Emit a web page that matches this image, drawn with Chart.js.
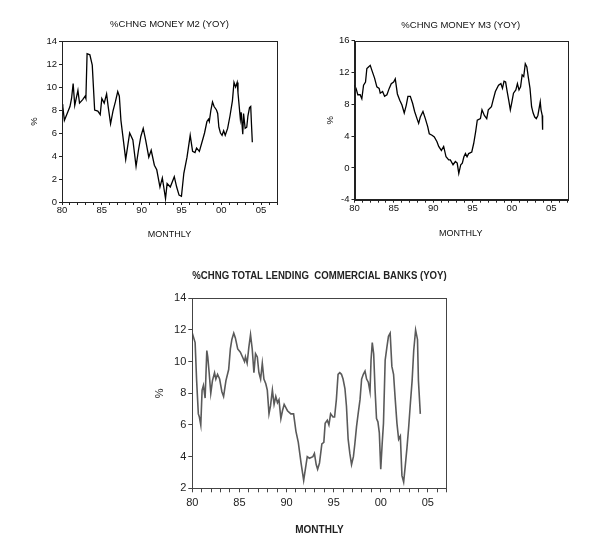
<!DOCTYPE html>
<html>
<head>
<meta charset="utf-8">
<script src="https://cdn.jsdelivr.net/npm/chart.js@4.4.1/dist/chart.umd.min.js"></script>
<style>
    body { margin: 0; background: #fff; }
    canvas { position: absolute; }
</style>
</head>
<body>
<canvas id="chartM2" width="300" height="250" style="left:0;top:0"></canvas>
<canvas id="chartM3" width="313" height="250" style="left:300px;top:0"></canvas>
<canvas id="chartLending" width="330" height="290" style="left:140px;top:255px"></canvas>
<script>
// Series (decimal years, % change YoY)
const m2Years = [1980.0, 1980.1, 1980.3, 1980.6, 1981.0, 1981.2, 1981.4, 1981.6, 1982.0, 1982.2, 1982.6, 1982.9,
    1983.0, 1983.15, 1983.5, 1983.8, 1984.1, 1984.5, 1984.8, 1985.0, 1985.3, 1985.6, 1985.8, 1986.1, 1986.4, 1986.7,
    1987.0, 1987.2, 1987.4, 1987.7, 1988.0, 1988.3, 1988.5, 1988.9, 1989.3, 1989.6, 1989.9, 1990.2, 1990.5, 1990.9,
    1991.2, 1991.6, 1991.9, 1992.3, 1992.6, 1993.0, 1993.2, 1993.6, 1994.1, 1994.4, 1994.7, 1995.0, 1995.3, 1995.7,
    1996.1, 1996.4, 1996.7, 1996.9, 1997.25, 1997.7, 1997.9, 1998.2, 1998.4, 1998.5, 1998.7, 1998.9,
    1999.1, 1999.4, 1999.55, 1999.7, 1999.9, 2000.1, 2000.3, 2000.5, 2000.8, 2001.1, 2001.4, 2001.6, 2001.8,
    2002.0, 2002.1, 2002.4, 2002.5, 2002.7, 2002.8, 2003.0, 2003.2, 2003.35, 2003.55, 2003.7, 2003.8, 2003.9];
const m2Values = [8.5, 8.3, 7.1, 7.6, 8.3, 9.0, 10.3, 8.4, 9.7, 8.6, 8.9, 9.2,
    9.0, 12.9, 12.8, 11.9, 8.0, 7.9, 7.6, 9.0, 8.6, 9.4, 8.3, 6.8, 7.9, 8.7,
    9.6, 9.2, 7.1, 5.4, 3.7, 5.1, 6.0, 5.4, 3.1, 4.5, 5.7, 6.4, 5.4, 3.9,
    4.5, 3.2, 2.8, 1.3, 2.1, 0.3, 1.6, 1.3, 2.2, 1.3, 0.6, 0.5, 2.5, 3.9,
    5.8, 4.4, 4.3, 4.7, 4.4, 5.5, 6.0, 7.0, 7.2, 7.0, 8.0, 8.7,
    8.3, 8.0, 7.7, 6.5, 6.0, 5.8, 6.2, 5.8, 6.4, 7.5, 8.8, 10.4, 10.0,
    10.4, 9.5, 7.2, 7.8, 5.9, 7.7, 6.4, 6.5, 7.5, 8.2, 8.3, 6.7, 5.2];

const m3Years = [1980.0, 1980.2, 1980.42, 1980.72, 1980.93, 1981.15, 1981.4, 1981.57, 1981.78,
    1982.0, 1982.2, 1982.55, 1982.84, 1983.13, 1983.27, 1983.57, 1983.82, 1984.12, 1984.41, 1984.67, 1984.97,
    1985.18, 1985.45, 1985.75, 1986.03, 1986.32, 1986.58, 1986.79, 1987.09, 1987.39, 1987.64, 1987.94,
    1988.15, 1988.36, 1988.7, 1989.0, 1989.3, 1989.5, 1989.85, 1990.14, 1990.48, 1990.7,
    1991.04, 1991.33, 1991.63, 1991.97, 1992.18, 1992.52, 1992.82, 1993.05, 1993.25, 1993.5, 1993.7, 1993.9,
    1994.1, 1994.3, 1994.5, 1994.9, 1995.15, 1995.4, 1995.6, 1996.0, 1996.2, 1996.5, 1996.8,
    1997.0, 1997.4, 1997.6, 1997.9, 1998.3, 1998.6, 1998.8, 1999.0, 1999.2, 1999.4, 1999.6, 1999.8,
    2000.0, 2000.2, 2000.5, 2000.7, 2000.9, 2001.1, 2001.3, 2001.5, 2001.7, 2001.9,
    2002.1, 2002.3, 2002.5, 2002.7, 2002.9, 2003.1, 2003.3, 2003.6, 2003.7, 2003.85, 2003.9];
const m3Values = [10.4, 10.0, 9.2, 9.2, 8.7, 10.4, 10.8, 12.5, 12.7,
    12.9, 12.3, 11.3, 10.2, 10.0, 9.4, 9.6, 9.0, 9.2, 10.0, 10.6, 10.8,
    11.2, 9.3, 8.5, 7.9, 6.9, 7.9, 9.0, 9.0, 8.1, 7.1, 6.2,
    5.6, 6.4, 7.1, 6.2, 5.2, 4.3, 4.1, 3.9, 3.3, 2.7,
    2.2, 2.7, 1.4, 1.0, 1.0, 0.4, 0.8, 0.6, -0.7, 0.4, 0.6, 1.4,
    1.8, 1.4, 1.8, 2.0, 3.1, 4.6, 6.0, 6.2, 7.3, 6.6, 6.2,
    7.3, 7.7, 8.5, 9.6, 10.4, 10.6, 10.0, 10.9, 10.8, 9.6, 8.5, 7.3,
    8.3, 9.4, 9.8, 10.6, 9.8, 10.2, 11.7, 11.5, 13.1, 12.7,
    11.3, 10.0, 7.7, 6.9, 6.4, 6.2, 6.6, 8.3, 7.3, 6.6, 4.8];

const lendingYears = [1980.0, 1980.3, 1980.46, 1980.64, 1980.75, 1980.9, 1981.04, 1981.18, 1981.36, 1981.54,
    1981.64, 1981.79, 1981.96, 1982.14, 1982.36, 1982.5, 1982.68, 1982.9, 1983.14, 1983.32,
    1983.57, 1983.86, 1984.04, 1984.2, 1984.4, 1984.57, 1984.82, 1985.1, 1985.4, 1985.54,
    1985.64, 1985.82, 1986.0, 1986.18, 1986.36, 1986.54, 1986.71, 1986.9, 1987.07, 1987.25,
    1987.43, 1987.6, 1987.8, 1987.96, 1988.14, 1988.3, 1988.5, 1988.68, 1988.86, 1989.04,
    1989.2, 1989.4, 1989.57, 1989.75, 1989.93, 1990.1, 1990.46, 1990.75, 1991.0, 1991.25,
    1991.54, 1991.82, 1992.2, 1992.43, 1992.8, 1992.96, 1993.15, 1993.3, 1993.5, 1993.75,
    1993.96, 1994.1, 1994.33, 1994.5, 1994.68, 1994.93, 1995.1, 1995.29, 1995.47, 1995.65,
    1995.83, 1996.0, 1996.2, 1996.36, 1996.54, 1996.72, 1996.9, 1997.1, 1997.25, 1997.43,
    1997.6, 1997.8, 1997.97, 1998.15, 1998.33, 1998.5, 1998.68, 1998.86, 1998.97, 1999.1,
    1999.25, 1999.4, 1999.55, 1999.7, 1999.85, 2000.0, 2000.15, 2000.29, 2000.47, 2000.65,
    2000.82, 2001.0, 2001.18, 2001.36, 2001.54, 2001.72, 2001.9, 2002.08, 2002.25, 2002.43,
    2002.6, 2002.79, 2002.97, 2003.15, 2003.33, 2003.5, 2003.7, 2003.9, 2004.0, 2004.2];
const lendingValues = [11.8, 11.2, 8.8, 6.7, 6.5, 6.0, 8.2, 8.5, 7.7, 10.7,
    10.3, 9.3, 8.0, 8.8, 9.3, 8.9, 9.2, 8.9, 8.1, 7.8,
    8.8, 9.5, 10.8, 11.4, 11.8, 11.5, 10.8, 10.6, 10.2, 10.0,
    10.3, 9.9, 10.9, 11.7, 10.8, 9.3, 10.5, 10.3, 9.3, 8.9,
    9.9, 8.9, 8.6, 8.2, 6.7, 7.2, 8.2, 7.3, 7.8, 7.4,
    7.6, 6.4, 6.9, 7.3, 7.1, 6.9, 6.7, 6.7, 5.6, 4.9,
    3.6, 2.5, 4.0, 3.9, 4.0, 4.2, 3.5, 3.2, 3.6, 4.8,
    4.9, 6.1, 6.3, 6.0, 6.7, 6.5, 6.5, 7.6, 9.2, 9.3,
    9.2, 8.9, 8.3, 7.2, 5.1, 4.2, 3.5, 4.0, 4.8, 5.9,
    6.7, 7.6, 8.9, 9.2, 9.4, 8.9, 8.7, 8.1, 10.1, 11.2,
    10.5, 8.2, 6.4, 6.2, 5.5, 3.2, 4.8, 6.1, 10.1, 10.9,
    11.6, 11.8, 9.7, 9.2, 7.6, 6.1, 5.1, 5.3, 2.8, 2.4,
    3.4, 4.6, 5.9, 7.4, 8.8, 10.7, 12.0, 11.4, 8.8, 6.7];

// Axis ranges and tick steps
const yearMin = 1980;
const yearMax = 2007;
const m2Axis = [0, 14, 2];
const m3Axis = [-4, 16, 4];
const lendingAxis = [2, 14, 2];

const FONT = 'Arial, "Liberation Sans", sans-serif';

// box around the plot area
const framePlugin = {
    id: 'frame',
    afterDraw(chart, args, opts) {
        const { ctx, chartArea: a } = chart;
        ctx.save();
        ctx.strokeStyle = opts.color;
        ctx.lineWidth = 1;
        ctx.strokeRect(Math.round(a.left) + 0.5, Math.round(a.top) + 0.5,
            Math.round(a.right - a.left), Math.round(a.bottom - a.top));
        ctx.restore();
    }
};

function drawChart(id, years, values, axis, o) {
    const points = years.map((yr, i) => ({ x: yr, y: values[i] }));
    return new Chart(document.getElementById(id), {
        type: 'line',
        data: {
            datasets: [{
                data: points,
                borderColor: o.lineColor,
                borderWidth: o.lineWidth,
                pointRadius: 0,
                tension: 0
            }]
        },
        options: {
            responsive: false,
            animation: false,
            devicePixelRatio: 1,
            layout: { padding: o.padding },
            plugins: {
                legend: { display: false },
                tooltip: { enabled: false },
                title: {
                    display: true,
                    text: o.title,
                    fullSize: false,
                    color: o.textColor,
                    font: o.titleFont,
                    padding: o.titlePadding
                },
                frame: { color: o.frameColor }
            },
            scales: {
                x: {
                    type: 'linear',
                    min: yearMin,
                    max: yearMax,
                    afterFit(s) { s.height = o.xHeight; },
                    grid: { drawOnChartArea: false, tickLength: o.tickLength, color: o.frameColor },
                    border: { color: o.frameColor },
                    ticks: {
                        stepSize: 1,
                        autoSkip: false,
                        maxTicksLimit: 100,
                        maxRotation: 0,
                        padding: o.xTickPadding,
                        color: o.textColor,
                        font: o.tickFont,
                        callback: v => (v % 5 === 0 ? String(v).slice(2) : '')
                    },
                    title: {
                        display: true,
                        text: 'MONTHLY',
                        color: o.textColor,
                        font: o.axisFont,
                        padding: { top: 0, bottom: 1 }
                    }
                },
                y: {
                    min: axis[0],
                    max: axis[1],
                    afterFit(s) { s.width = o.yWidth; },
                    grid: { drawOnChartArea: false, tickLength: o.tickLength, color: o.frameColor },
                    border: { color: o.frameColor },
                    ticks: { stepSize: axis[2], padding: 2, color: o.textColor, font: o.tickFont },
                    title: {
                        display: true,
                        text: '%',
                        color: o.textColor,
                        font: o.tickFont,
                        padding: { top: o.yTitlePad, bottom: 0 }
                    }
                }
            }
        },
        plugins: [framePlugin]
    });
}

document.addEventListener('DOMContentLoaded', function () {
    const topStyle = {
        lineColor: '#000',
        lineWidth: 1.3,
        frameColor: '#222',
        textColor: '#111',
        titleFont: { family: FONT, size: 9.5, weight: 'normal' },
        tickFont: { family: FONT, size: 9.5 },
        axisFont: { family: FONT, size: 9 },
        tickLength: 3,
        xTickPadding: 0
    };

    drawChart('chartM2', m2Years, m2Values, m2Axis, Object.assign({}, topStyle, {
        title: '%CHNG MONEY M2 (YOY)',
        padding: { left: 0, right: 23, top: 0, bottom: 9 },
        titlePadding: { top: 18.3, bottom: 11.3 },
        yWidth: 62,
        xHeight: 39,
        yTitlePad: 28.6
    }));

    drawChart('chartM3', m3Years, m3Values, m3Axis, Object.assign({}, topStyle, {
        title: '%CHNG MONEY M3 (YOY)',
        padding: { left: 0, right: 46, top: 0, bottom: 10.3 },
        titlePadding: { top: 19.3, bottom: 10 },
        yWidth: 54.5,
        xHeight: 40,
        yTitlePad: 24.6
    }));

    drawChart('chartLending', lendingYears, lendingValues, lendingAxis, {
        title: '%CHNG TOTAL LENDING  COMMERCIAL BANKS (YOY)',
        lineColor: '#5a5a5a',
        lineWidth: 1.6,
        frameColor: '#444',
        textColor: '#222',
        titleFont: { family: FONT, size: 10, weight: 'bold' },
        tickFont: { family: FONT, size: 11 },
        axisFont: { family: FONT, size: 10, weight: 'bold' },
        tickLength: 4,
        xTickPadding: 4,
        padding: { left: 0, right: 23.3, top: 0, bottom: 8 },
        titlePadding: { top: 15.7, bottom: 15.6 },
        yWidth: 52.3,
        xHeight: 48.7,
        yTitlePad: 13.4
    });
});
</script>
</body>
</html>
